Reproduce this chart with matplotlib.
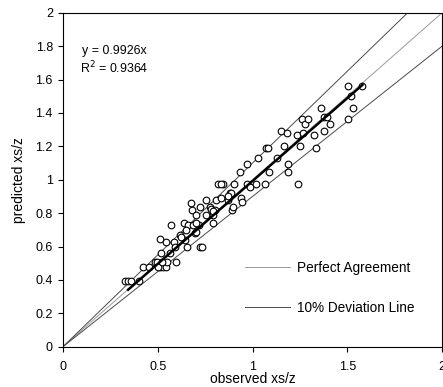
import numpy as np
import matplotlib.pyplot as plt

plt.rcParams['font.family'] = ['Liberation Sans', 'DejaVu Sans']

# observed vs predicted xs/z
observed = [0.329, 0.343, 0.361, 0.399,
            0.422, 0.454, 0.484, 0.496, 0.510, 0.528, 0.542, 0.549, 0.598, 0.500, 0.520,
            0.515, 0.514, 0.542, 0.572, 0.586, 0.589, 0.563,
            0.616, 0.637, 0.642, 0.656, 0.660, 0.677, 0.683, 0.686, 0.695, 0.704, 0.704,
            0.718, 0.721, 0.735, 0.725, 0.753, 0.756, 0.774, 0.783, 0.792, 0.792, 0.800,
            0.809, 0.818, 0.836, 0.844, 0.832, 0.871, 0.883, 0.888, 0.893, 0.900, 0.897,
            0.932, 0.938, 0.946, 0.971, 0.971, 0.985, 1.017, 1.031, 1.067, 1.069, 1.083,
            1.087, 1.129, 1.152, 1.166, 1.182, 1.187, 1.187, 1.238, 1.237, 1.249, 1.263,
            1.267, 1.277, 1.295, 1.323, 1.337, 1.363, 1.377, 1.375, 1.393, 1.411, 1.506,
            1.506, 1.520, 1.531, 1.580, 0.625, 0.650, 0.700, 0.790, 0.870]
predicted = [0.393, 0.393, 0.393, 0.393,
             0.479, 0.479, 0.509, 0.509, 0.479, 0.479, 0.479, 0.509, 0.509, 0.479, 0.509,
             0.559, 0.643, 0.629, 0.729, 0.629, 0.599, 0.559,
             0.669, 0.739, 0.639, 0.599, 0.729, 0.862, 0.818, 0.729, 0.679, 0.788, 0.689,
             0.729, 0.599, 0.599, 0.834, 0.878, 0.788, 0.838, 0.822, 0.788, 0.739, 0.818,
             0.878, 0.972, 0.892, 0.972, 0.972, 0.878, 0.922, 0.918, 0.818, 0.972, 0.838,
             1.048, 0.892, 0.864, 1.092, 0.972, 0.958, 0.972, 1.128, 0.972, 1.188, 1.188,
             1.048, 1.128, 1.291, 1.202, 1.281, 1.092, 1.048, 0.972, 1.267, 1.202, 1.363,
             1.283, 1.333, 1.363, 1.267, 1.188, 1.427, 1.291, 1.377, 1.377, 1.333, 1.561,
             1.363, 1.501, 1.427, 1.561, 0.660, 0.700, 0.740, 0.810, 0.900]

slope = 0.9926
r2 = 0.9364

fig = plt.figure(figsize=(4.43, 3.87), dpi=100)
ax = fig.add_axes([0.142, 0.104, 0.856, 0.863])

xs = np.array([0, 2])
ax.plot(xs, xs, color='#9a9a9a', lw=0.7, label='Perfect Agreement')
ax.plot(xs, 1.1 * xs, color='#4a4a4a', lw=0.7, label='10% Deviation Line')
ax.plot(xs, 0.9 * xs, color='#4a4a4a', lw=0.7)

ax.plot(observed, predicted, 'o', mfc='white', mec='black', ms=4.8, mew=0.8, ls='none')

# regression line through origin, over the data range
fx = np.array([min(observed) + 0.015, max(observed)])
ax.plot(fx, slope * fx, color='black', lw=1.8)

ax.text(0.27, 1.714, f"y = {slope}x\nR$^2$ = {r2}", ha='center', va='center',
        fontsize=8.9, linespacing=1.2)

ax.set_xlim(0, 2)
ax.set_ylim(0, 2)
ax.set_xticks([0, 0.5, 1, 1.5, 2])
ax.set_xticklabels(['0', '0.5', '1', '1.5', '2'])
ax.set_yticks(np.arange(0, 2.01, 0.2))
ax.set_yticklabels(['0', '0.2', '0.4', '0.6', '0.8', '1', '1.2', '1.4', '1.6', '1.8', '2'])
ax.tick_params(direction='out', length=3.6, labelsize=9)
ax.tick_params(axis='x', pad=6.5)
ax.tick_params(axis='y', pad=3.6)
ax.set_xlabel('observed xs/z', fontsize=10)
ax.set_ylabel('predicted xs/z', fontsize=10)
ax.xaxis.set_label_coords(0.5, -0.077)
ax.yaxis.set_label_coords(-0.098, 0.5)

ax.legend(loc='center left', bbox_to_anchor=(0.462, 0.176), frameon=False, fontsize=9.8,
          borderpad=0, handlelength=3.3, handletextpad=0.5, labelspacing=1.9)

fig.savefig('out.png', dpi=100)
